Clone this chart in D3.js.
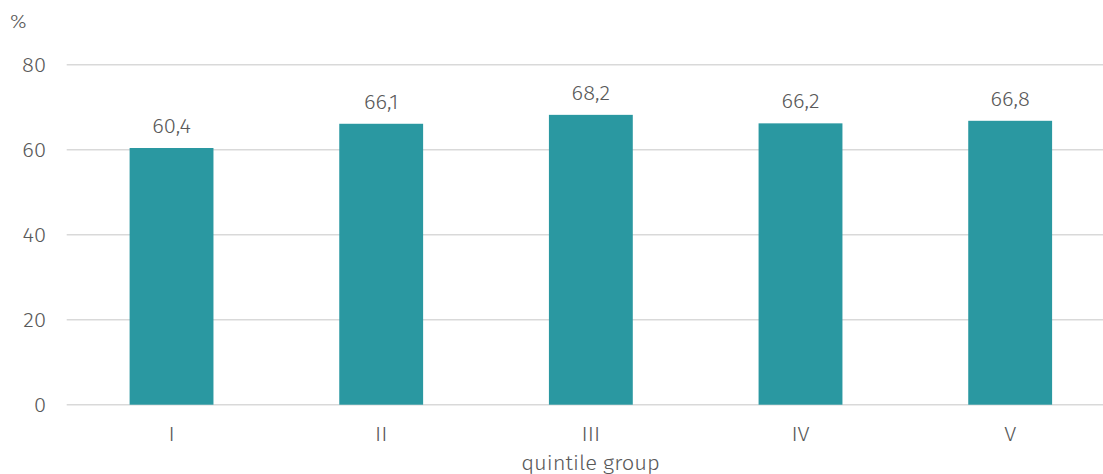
<!DOCTYPE html>
<html><head><meta charset="utf-8">
<script src="https://cdn.jsdelivr.net/npm/d3@7"></script>
<style>body{margin:0;background:#fff}svg{display:block}text{font-family:"Fira Sans","Noto Sans","Open Sans",sans-serif;fill:#595959;font-weight:300}</style>
</head><body>
<script>
const categories = ["I","II","III","IV","V"];
const values = [60.4, 66.1, 68.2, 66.2, 66.8];
const yTicks = [0,20,40,60,80];
const yUnit = "%";
const xTitle = "quintile group";

const W = 1103, H = 474;
const FS = 20, SX = 1.1;
const svg = d3.select("body").append("svg").attr("width", W).attr("height", H);
const x = d3.scaleBand().domain(categories).range([66.7, 1115]).paddingInner(0.6).paddingOuter(0.3);
const y = d3.scaleLinear().domain([0,80]).range([404.7, 64.7]);
const tr = (px, py) => `translate(${px},${py}) scale(${SX},1)`;

svg.append("g").selectAll("line").data(yTicks).join("line")
  .attr("x1", 66.7).attr("x2", W).attr("y1", d=>y(d)).attr("y2", d=>y(d))
  .attr("stroke", "#d9d9d9").attr("stroke-width", 1.5);

svg.append("g").selectAll("text").data(yTicks).join("text")
  .attr("transform", d=>tr(46, y(d))).attr("dy", "0.35em").attr("text-anchor","end")
  .attr("font-size", FS).text(d=>d);

svg.append("text").attr("transform", tr(10, 28)).attr("font-size", FS-1).text(yUnit);

svg.append("g").selectAll("rect").data(values).join("rect")
  .attr("x", (d,i)=>x(categories[i])).attr("width", x.bandwidth())
  .attr("y", d=>y(d)).attr("height", d=>y(0)-y(d)).attr("fill", "#2A98A1");

svg.append("g").selectAll("text").data(values).join("text")
  .attr("transform", (d,i)=>tr(x(categories[i]) + x.bandwidth()/2, y(d)-15))
  .attr("text-anchor","middle").attr("font-size", FS)
  .text(d=>d.toFixed(1).replace(".", ","));

svg.append("g").selectAll("text").data(categories).join("text")
  .attr("transform", d=>tr(x(d)+x.bandwidth()/2, 441))
  .attr("text-anchor","middle").attr("font-size", FS).text(d=>d);

svg.append("text").attr("transform", tr(590.5, 470)).attr("text-anchor","middle")
  .attr("font-size", FS).text(xTitle);
</script>
</body></html>
